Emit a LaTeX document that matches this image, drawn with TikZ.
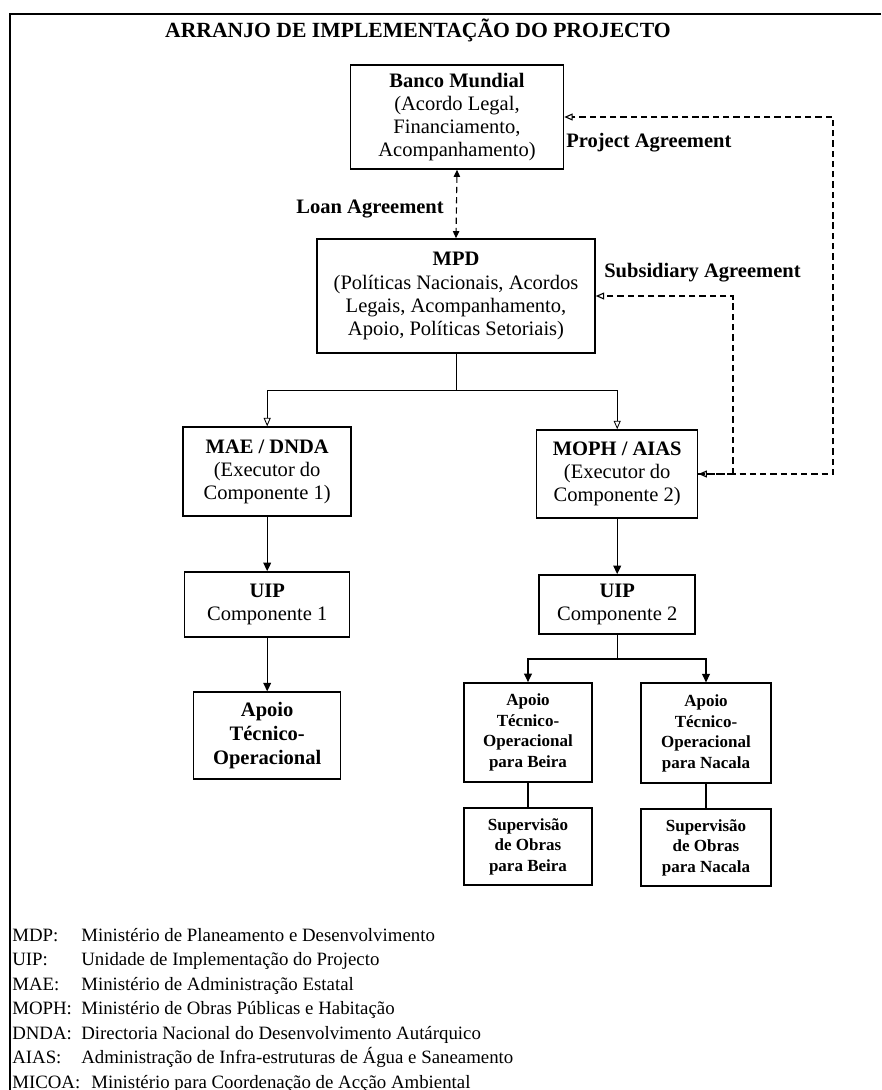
\documentclass[tikz,border=0pt]{standalone}
\usepackage{fontspec}
\setmainfont{Liberation Serif}
\usetikzlibrary{arrows.meta,calc}

\begin{document}
\begin{tikzpicture}[
    box/.style={draw,line width=1.1pt,align=center,inner sep=2pt,
      font=\fontsize{14.6}{16.4}\selectfont},
    smallbox/.style={box,font=\fontsize{12.1}{14.6}\selectfont\bfseries},
    lbl/.style={inner sep=0pt,font=\fontsize{14.6}{16.4}\selectfont\bfseries},
    legend/.style={inner sep=0pt,font=\fontsize{13.4}{16}\selectfont},
    link/.style={line width=0.9pt,-{Triangle[length=6pt,width=5.5pt]}},
    fork/.style={line width=0.6pt,-{Triangle[open,length=6pt,width=5pt]}},
    agree/.style={line width=0.8pt,dash pattern=on 4.5pt off 2.8pt},
    tipfull/.style={{Triangle[length=5pt,width=4.5pt]}-{Triangle[length=5pt,width=4.5pt]}},
    tipopen/.style={-{Triangle[open,length=6pt,width=5pt]}}
  ]
  \path[use as bounding box] (0,0) rectangle (22.025,-27.25);
  \draw[line width=0.9pt] (22.025,-0.35) -- (0.25,-0.35) -- (0.25,-27.25);

  \node[lbl,font=\fontsize{15.4}{18}\selectfont\bfseries,anchor=base] (title)
    at (10.45,-0.95) {ARRANJO DE IMPLEMENTAÇÃO DO PROJECTO};

  \node[box,minimum width=5.325cm,minimum height=2.6cm] (banco) at (11.425,-2.925)
    {\textbf{Banco Mundial}\\(Acordo Legal,\\Financiamento,\\Acompanhamento)};
  \node[box,minimum width=6.95cm,minimum height=2.85cm] (mpd) at (11.4,-7.4)
    {\textbf{MPD}\\(Políticas Nacionais, Acordos\\Legais, Acompanhamento,\\Apoio, Políticas Setoriais)};

  \node[box,minimum width=4.2cm,minimum height=2.225cm] (mae) at (6.68,-11.79)
    {\textbf{MAE / DNDA}\\(Executor do\\Componente 1)};
  \node[box,minimum width=4.025cm,minimum height=2.2cm] (moph) at (15.43,-11.85)
    {\textbf{MOPH / AIAS}\\(Executor do\\Componente 2)};

  \node[box,minimum width=4.125cm,minimum height=1.625cm] (uipa) at (6.68,-15.11)
    {\textbf{UIP}\\Componente 1};
  \node[box,minimum width=3.9cm,minimum height=1.475cm] (uipb) at (15.43,-15.11)
    {\textbf{UIP}\\Componente 2};

  \node[box,font=\fontsize{14.6}{17}\selectfont\bfseries,
    minimum width=3.675cm,minimum height=2.175cm] (apoio) at (6.68,-18.39)
    {Apoio\\Técnico-\\Operacional};

  \node[smallbox,minimum width=3.2cm,minimum height=2.475cm] (beira) at (13.2,-18.31)
    {Apoio\\Técnico-\\Operacional\\para Beira};
  \node[smallbox,minimum width=3.25cm,minimum height=2.5cm] (nacala) at (17.65,-18.33)
    {Apoio\\Técnico-\\Operacional\\para Nacala};
  \node[smallbox,minimum width=3.2cm,minimum height=1.925cm] (supbeira) at (13.2,-21.16)
    {Supervisão\\de Obras\\para Beira};
  \node[smallbox,minimum width=3.25cm,minimum height=1.925cm] (supnacala) at (17.65,-21.19)
    {Supervisão\\de Obras\\para Nacala};

  \node[lbl,anchor=base east] (loan) at (11.1,-5.325) {Loan Agreement};
  \node[lbl,anchor=base west] (project) at (14.15,-3.675) {Project Agreement};
  \node[lbl,anchor=base west] (subsid) at (15.1,-6.925) {Subsidiary Agreement};

  \coordinate (pa) at (20.825,-2.925);
  \coordinate (sa) at (18.325,-7.4);
  \coordinate (mpdfork) at (11.4,-9.75);
  \coordinate (uipfork) at (15.43,-16.475);

  \draw[agree,tipfull] (banco.south) -- (mpd.north);
  \draw[agree,tipopen] (moph.east) -| (pa) -- (banco.east);
  \draw[agree,tipopen] (moph.east -| sa) |- (mpd.east);
  \draw[agree,tipopen] (moph.east -| sa) -- (moph.east);

  \draw[fork] (mpd.south) -- (mpdfork) -| (mae.north);
  \draw[fork] (mpdfork) -| (moph.north);

  \draw[link] (mae) -- (uipa);
  \draw[link] (moph) -- (uipb);
  \draw[link] (uipa) -- (apoio);

  \draw[link] (uipb.south) -- (uipfork) -| (beira.north);
  \draw[link] (uipfork) -| (nacala.north);
  \draw[line width=0.8pt] (beira) -- (supbeira);
  \draw[line width=0.8pt] (nacala) -- (supnacala);

  \foreach \abbr/\desc/\dx [count=\i] in {
      MDP:/Ministério de Planeamento e Desenvolvimento/2.025,
      UIP:/Unidade de Implementação do Projecto/2.025,
      MAE:/Ministério de Administração Estatal/2.025,
      MOPH:/Ministério de Obras Públicas e Habitação/2.025,
      DNDA:/Directoria Nacional do Desenvolvimento Autárquico/2.025,
      AIAS:/Administração de Infra-estruturas de Água e Saneamento/2.025,
      MICOA:/Ministério para Coordenação de Acção Ambiental/2.275} {
    \node[legend,anchor=base west] (abbr\i) at (0.3,{-23.525-0.6125*(\i-1)}) {\abbr};
    \node[legend,anchor=base west] (desc\i) at (\dx,{-23.525-0.6125*(\i-1)}) {\desc};
  }
\end{tikzpicture}
\end{document}
